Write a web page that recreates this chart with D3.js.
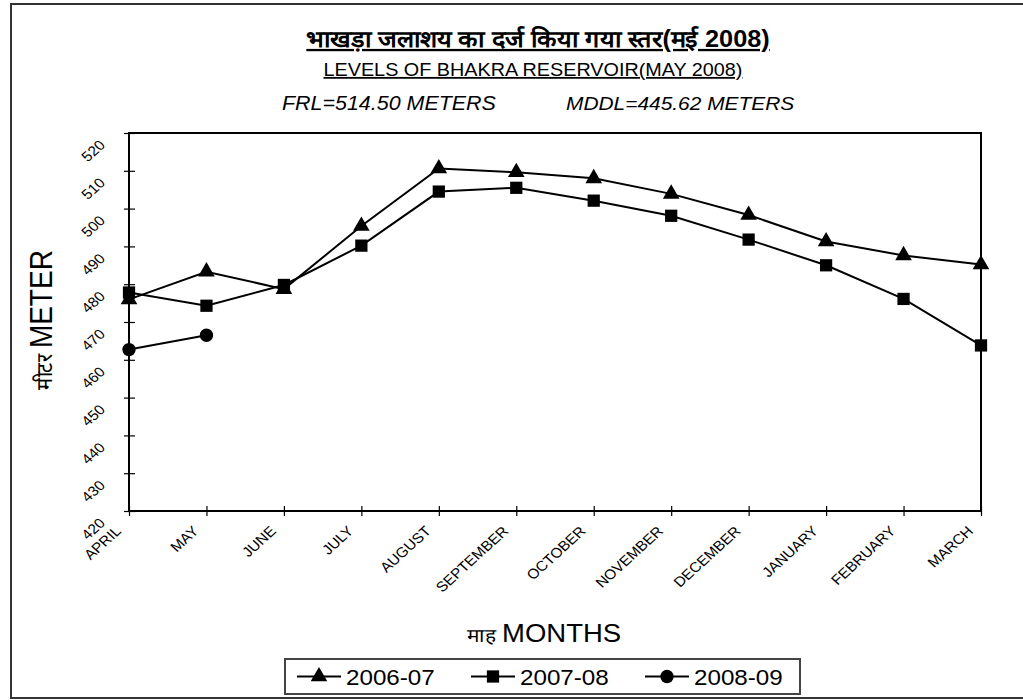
<!DOCTYPE html>
<html>
<head>
<meta charset="utf-8">
<script src="https://cdn.jsdelivr.net/npm/d3@7"></script>
<style>
  body { margin: 0; background: #fff; }
  svg { display: block; font-family: "Liberation Sans", Arial, sans-serif; }
</style>
</head>
<body>
<svg id="chart"></svg>
<script>
// Bhakra reservoir levels, month by month, for three water years

const months = ["APRIL", "MAY", "JUNE", "JULY", "AUGUST", "SEPTEMBER", "OCTOBER",
    "NOVEMBER", "DECEMBER", "JANUARY", "FEBRUARY", "MARCH"];
const yTicks = [420, 430, 440, 450, 460, 470, 480, 490, 500, 510, 520];

const levels0607 = [476.0, 483.3, 478.7, 495.4, 510.6, 509.6, 508.0, 503.9, 498.3, 491.3, 487.6, 485.2];
const levels0708 = [477.8, 474.3, 479.8, 490.2, 504.5, 505.5, 502.1, 498.1, 491.8, 485.0, 476.1, 463.8];
const levels0809 = [462.7, 466.5];

const seriesNames = ["2006-07", "2007-08", "2008-09"];

const series = [
    { name: seriesNames[0], values: levels0607, symbol: d3.symbolTriangle, size: 120 },
    { name: seriesNames[1], values: levels0708, symbol: d3.symbolSquare, size: 150 },
    { name: seriesNames[2], values: levels0809, symbol: d3.symbolCircle, size: 140 }
];

let width = 1023,
    height = 700;
const stretch = 1.1;   // the original text looks a bit wide

const svg = d3.select('#chart')
    .attr('width', width)
    .attr('height', height);

svg.append('rect')
    .attr('width', width).attr('height', height)
    .attr('fill', '#fff');

// outer frame
svg.append('rect')
    .attr('x', 11).attr('y', 4)
    .attr('width', 1040).attr('height', 694)
    .attr('fill', 'none')
    .attr('stroke', '#333')
    .attr('stroke-width', 2);

const plot = { left: 129, right: 981, top: 133, bottom: 511 };

const x = d3.scalePoint()
    .domain(months)
    .range([plot.left, plot.right]);

const y = d3.scaleLinear()
    .domain([420, 520])
    .range([plot.bottom, plot.top]);

// helper for horizontally stretched text
function addText(parent, tx, ty, str, opts) {
    opts = opts || {};
    let t = parent.append('text')
        .attr('transform', `translate(${tx},${ty}) scale(${stretch},1)` + (opts.rotate ? ` rotate(${opts.rotate})` : ''))
        .attr('text-anchor', opts.anchor || 'middle')
        .attr('font-size', opts.size || 14)
        .attr('fill', '#000')
        .text(str);
    if (opts.weight) t.attr('font-weight', opts.weight);
    if (opts.style) t.attr('font-style', opts.style);
    if (opts.underline) t.attr('text-decoration', 'underline');
    return t;
}

// titles
addText(svg, 538, 47, 'भाखड़ा जलाशय का दर्ज किया गया स्तर(मई 2008)', { size: 23, weight: 'bold', underline: true });
addText(svg, 533, 76, 'LEVELS OF BHAKRA RESERVOIR(MAY 2008)', { size: 18, underline: true });
addText(svg, 282, 110, 'FRL=514.50 METERS', { size: 19.5, style: 'italic', anchor: 'start' });
addText(svg, 566, 110, 'MDDL=445.62 METERS', { size: 19, style: 'italic', anchor: 'start' });

// plot frame
svg.append('rect')
    .attr('x', plot.left).attr('y', plot.top)
    .attr('width', plot.right - plot.left).attr('height', plot.bottom - plot.top)
    .attr('fill', 'none')
    .attr('stroke', '#000')
    .attr('stroke-width', 2);

// y axis: cross ticks, labels tilted
const yAxis = svg.append('g')
    .attr('transform', `translate(${plot.left},0)`)
    .call(d3.axisLeft(y).tickValues(yTicks).tickSize(5).tickFormat(''));
yAxis.select('.domain').remove();
yAxis.selectAll('.tick line').attr('x2', 6).attr('x1', -5).attr('stroke', '#000').attr('stroke-width', 1.2);

const yLabels = svg.append('g');
yTicks.forEach((d) => {
    addText(yLabels, plot.left - 23, y(d) + 13, d, { size: 14, anchor: 'end', rotate: -45 });
});

// x axis
const xAxis = svg.append('g')
    .attr('transform', `translate(0,${plot.bottom})`)
    .call(d3.axisBottom(x).tickSize(5).tickFormat(''));
xAxis.select('.domain').remove();
xAxis.selectAll('.tick line').attr('y1', -5).attr('y2', 5).attr('stroke', '#000').attr('stroke-width', 1.2);

const xLabels = svg.append('g');
months.forEach((m) => {
    addText(xLabels, x(m) - 7, plot.bottom + 21, m, { size: 14, anchor: 'end', rotate: -45 });
});

// axis titles
const yTitle = addText(svg, 52, 320, '', { size: 28, rotate: -90 });
yTitle.append('tspan').attr('font-size', 20).text('मीटर ');
yTitle.append('tspan').text('METER');

const xTitle = addText(svg, 544, 642, '', { size: 25 });
xTitle.append('tspan').attr('font-size', 19).text('माह ');
xTitle.append('tspan').text('MONTHS');

// series lines and markers
const line = d3.line()
    .x((d, i) => x(months[i]))
    .y((d) => y(d));

series.forEach((s) => {
    svg.append('path')
        .datum(s.values)
        .attr('fill', 'none')
        .attr('stroke', '#000')
        .attr('stroke-width', 2)
        .attr('d', line);
    svg.append('g').selectAll('path')
        .data(s.values)
        .enter().append('path')
        .attr('transform', (d, i) => `translate(${x(months[i])},${y(d)})`)
        .attr('d', d3.symbol().type(s.symbol).size(s.size))
        .attr('fill', '#000');
});

// legend
const legendBox = { x: 285, y: 659, w: 515, h: 35 };
const legendPos = [319, 493, 667];
const legend = svg.append('g');
legend.append('rect')
    .attr('x', legendBox.x).attr('y', legendBox.y)
    .attr('width', legendBox.w).attr('height', legendBox.h)
    .attr('fill', '#fff')
    .attr('stroke', '#444')
    .attr('stroke-width', 2);

series.forEach((s, i) => {
    let cx = legendPos[i],
        cy = legendBox.y + legendBox.h / 2;
    legend.append('line')
        .attr('x1', cx - 22).attr('x2', cx + 22)
        .attr('y1', cy).attr('y2', cy)
        .attr('stroke', '#000').attr('stroke-width', 2);
    legend.append('path')
        .attr('transform', `translate(${cx},${cy})`)
        .attr('d', d3.symbol().type(s.symbol).size(s.size))
        .attr('fill', '#000');
    addText(legend, cx + 27, cy + 8, s.name, { size: 22, anchor: 'start' });
});
</script>
</body>
</html>
